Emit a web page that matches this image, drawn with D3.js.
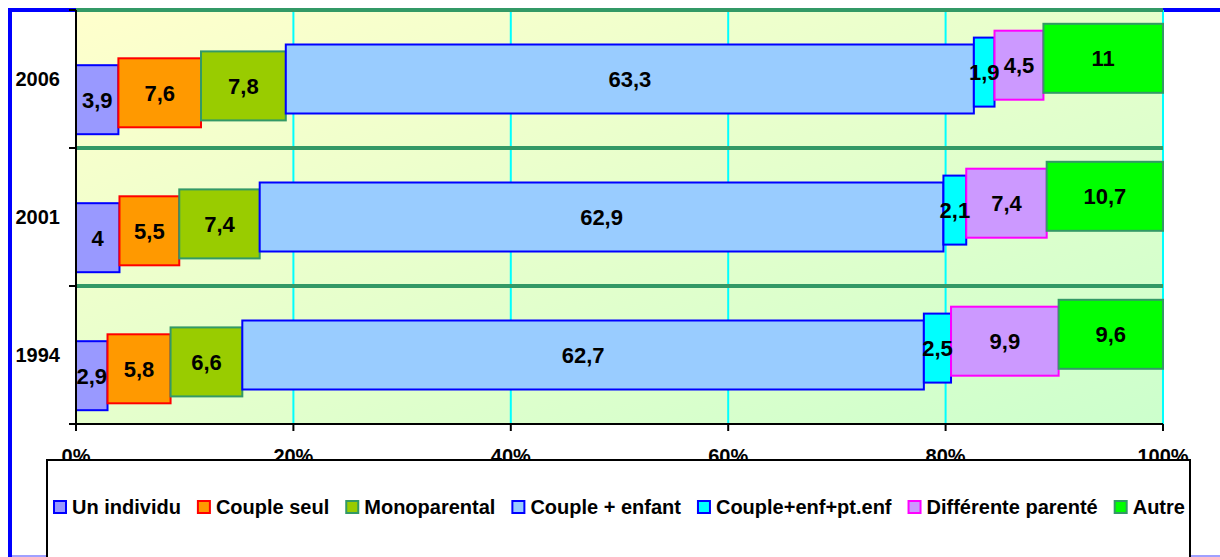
<!DOCTYPE html>
<html>
<head>
<meta charset="utf-8">
<script src="https://cdn.jsdelivr.net/npm/d3@7"></script>
<style>
  html, body { margin: 0; padding: 0; background: #fff; }
  svg { display: block; font-family: "Liberation Sans", Arial, sans-serif; font-weight: bold; }
</style>
</head>
<body>
<div id="chart"></div>
<script>
// chart data
const years = ['2006', '2001', '1994'];
const seriesNames = ['Un individu', 'Couple seul', 'Monoparental', 'Couple + enfant',
                     'Couple+enf+pt.enf', 'Différente parenté', 'Autre'];
const values2006 = [3.9, 7.6, 7.8, 63.3, 1.9, 4.5, 11];
const values2001 = [4, 5.5, 7.4, 62.9, 2.1, 7.4, 10.7];
const values1994 = [2.9, 5.8, 6.6, 62.7, 2.5, 9.9, 9.6];
const xTicks = [0, 20, 40, 60, 80, 100];

const fills = ['#9999FF', '#FF9900', '#99CC00', '#99CCFF', '#00FFFF', '#CC99FF', '#00FF00'];
const strokes = ['#0000FF', '#FF0000', '#339966', '#0000FF', '#0000FF', '#FF00FF', '#339966'];

let valuesByYear = {'2006': values2006, '2001': values2001, '1994': values1994};

let drawChart = function() {
    let W = 1220, H = 557;
    let margin = {top: 10, left: 76, right: 57, bottom: 133};

    let svg = d3.select('#chart').append('svg')
        .attr('width', W).attr('height', H);

    // outer frame (blue) and bottom edge line
    svg.append('path')
        .attr('d', 'M10,' + H + ' L10,10 L' + W + ',10')
        .attr('fill', 'none').attr('stroke', '#0000FF').attr('stroke-width', 4);
    svg.append('line')
        .attr('x1', 12).attr('x2', W).attr('y1', H - 1).attr('y2', H - 1)
        .attr('stroke', '#A0A0FF').attr('stroke-width', 2);

    let x = d3.scaleLinear().domain([0, 100]).range([margin.left, W - margin.right]);
    let y = d3.scaleBand().domain(years).range([margin.top, H - margin.bottom]).padding(0);

    // plot background gradient
    let grad = svg.append('defs').append('linearGradient')
        .attr('id', 'bg').attr('x1', 0).attr('y1', 0).attr('x2', 1).attr('y2', 1);
    grad.append('stop').attr('offset', '0%').attr('stop-color', '#FFFFCC');
    grad.append('stop').attr('offset', '100%').attr('stop-color', '#CCFFCC');

    svg.append('rect')
        .attr('x', x(0)).attr('y', y.range()[0])
        .attr('width', x(100) - x(0)).attr('height', y.range()[1] - y.range()[0])
        .attr('fill', 'url(#bg)');

    // vertical grid lines
    svg.append('g').selectAll('line')
        .data(xTicks.slice(1))
        .enter().append('line')
        .attr('x1', d => x(d)).attr('x2', d => x(d))
        .attr('y1', y.range()[0]).attr('y2', y.range()[1])
        .attr('stroke', '#00FFFF').attr('stroke-width', 2);

    // horizontal separators between years
    svg.append('g').selectAll('line')
        .data(years)
        .enter().append('line')
        .attr('x1', x(0)).attr('x2', x(100))
        .attr('y1', d => y(d)).attr('y2', d => y(d))
        .attr('stroke', '#339966').attr('stroke-width', 4);

    // each series sits a little higher than the previous one (3D look)
    let depth = d3.scaleLinear().domain([0, seriesNames.length - 1]).range([20.7, -20.7]);
    let barH = y.bandwidth() * 0.5;

    let segments = [];
    years.forEach(function(yr) {
        let cum = 0;
        valuesByYear[yr].forEach(function(v, i) {
            segments.push({year: yr, i: i, v: v, x0: cum, x1: cum + v});
            cum += v;
        });
    });

    svg.append('g').selectAll('rect')
        .data(segments)
        .enter().append('rect')
        .attr('x', d => x(d.x0))
        .attr('y', d => y(d.year) + y.bandwidth() / 2 + depth(d.i) - barH / 2)
        .attr('width', d => x(d.x1) - x(d.x0))
        .attr('height', barH)
        .attr('fill', d => fills[d.i])
        .attr('stroke', d => strokes[d.i])
        .attr('stroke-width', 2);

    svg.append('g').selectAll('text')
        .data(segments)
        .enter().append('text')
        .attr('x', d => x((d.x0 + d.x1) / 2))
        .attr('y', d => y(d.year) + y.bandwidth() / 2 + depth(d.i))
        .attr('dy', '0.36em')
        .attr('text-anchor', 'middle')
        .style('font-size', '22px')
        .attr('fill', '#000')
        .text(d => String(d.v).replace('.', ','));

    // Y axis
    let yAxis = svg.append('g').attr('transform', 'translate(' + x(0) + ',0)');
    yAxis.append('line')
        .attr('x1', 0).attr('x2', 0).attr('y1', y.range()[0]).attr('y2', y.range()[1])
        .attr('stroke', '#000').attr('stroke-width', 2);
    yAxis.selectAll('.tk')
        .data(years.map(d => y(d)).concat([y.range()[1]]))
        .enter().append('line')
        .attr('x1', -7).attr('x2', 0).attr('y1', d => d).attr('y2', d => d)
        .attr('stroke', '#000').attr('stroke-width', 2);
    yAxis.selectAll('text')
        .data(years)
        .enter().append('text')
        .attr('x', -16)
        .attr('y', d => y(d) + y.bandwidth() / 2)
        .attr('dy', '0.36em')
        .attr('text-anchor', 'end')
        .style('font-size', '20px')
        .text(d => d);

    // X axis
    let xAxis = svg.append('g').attr('transform', 'translate(0,' + y.range()[1] + ')');
    xAxis.append('line')
        .attr('x1', x(0)).attr('x2', x(100)).attr('y1', 0).attr('y2', 0)
        .attr('stroke', '#000').attr('stroke-width', 2);
    xAxis.selectAll('.tk')
        .data(xTicks)
        .enter().append('line')
        .attr('x1', d => x(d)).attr('x2', d => x(d)).attr('y1', 0).attr('y2', 7)
        .attr('stroke', '#000').attr('stroke-width', 2);
    xAxis.selectAll('text')
        .data(xTicks)
        .enter().append('text')
        .attr('x', d => x(d))
        .attr('y', 39)
        .attr('text-anchor', 'middle')
        .style('font-size', '20px')
        .text(d => d + '%');

    // legend box (covers the lower half of the tick labels, as in the original)
    let legendTop = 460;
    svg.append('rect')
        .attr('x', 47).attr('y', legendTop)
        .attr('width', 1143).attr('height', 200)
        .attr('fill', '#fff').attr('stroke', '#000').attr('stroke-width', 2);

    let legend = svg.append('g');
    let lx = 53, ly = 507, sq = 12, gap = 16;
    seriesNames.forEach(function(name, i) {
        let item = legend.append('g');
        item.append('rect')
            .attr('x', lx + 1).attr('y', ly - sq / 2)
            .attr('width', sq).attr('height', sq)
            .attr('fill', fills[i]).attr('stroke', strokes[i]).attr('stroke-width', 2);
        let t = item.append('text')
            .attr('x', lx + sq + 7)
            .attr('y', ly).attr('dy', '0.36em')
            .style('font-size', '20px')
            .text(name);
        lx += sq + 7 + t.node().getComputedTextLength() + gap;
    });
}

drawChart();
</script>
</body>
</html>
